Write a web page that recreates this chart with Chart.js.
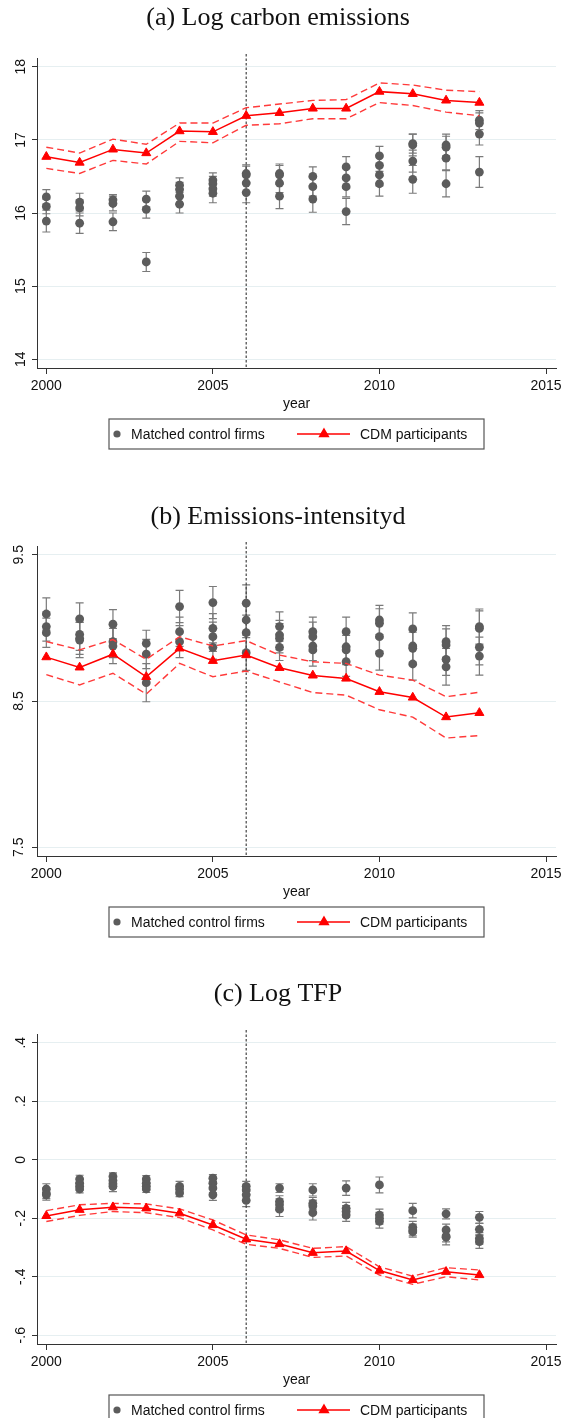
<!DOCTYPE html>
<html>
<head>
<meta charset="utf-8">
<title>CDM participants and matched control firms</title>
<script src="https://cdn.jsdelivr.net/npm/chart.js"></script>
<style>
    body { margin: 0; background: #fff; overflow: hidden; }
    .panel { width: 563px; height: 488px; }
    canvas { display: block; }
</style>
</head>
<body>
<div class="panel"><canvas id="chartA" width="563" height="488"></canvas></div>
<div class="panel"><canvas id="chartB" width="563" height="488"></canvas></div>
<div class="panel"><canvas id="chartC" width="563" height="488"></canvas></div>
<script>
// Shared x axis
const years = [2000, 2001, 2002, 2003, 2004, 2005, 2006, 2007, 2008, 2009, 2010, 2011, 2012, 2013];
const xTicks = [2000, 2005, 2010, 2015];
const policyYear = 2006;

// (a) Log carbon emissions
const cdmA   = [16.77, 16.69, 16.87, 16.82, 17.12, 17.11, 17.33, 17.37, 17.43, 17.43, 17.66, 17.63, 17.54, 17.51];
const cdmHiA = [16.90, 16.82, 17.01, 16.94, 17.23, 17.23, 17.44, 17.49, 17.54, 17.55, 17.78, 17.75, 17.68, 17.66];
const cdmLoA = [16.61, 16.54, 16.72, 16.67, 16.98, 16.96, 17.20, 17.22, 17.29, 17.29, 17.51, 17.47, 17.38, 17.33];
const controlA = [
    [16.22, 16.09, 15.89],
    [16.15, 16.07, 15.86],
    [16.18, 16.13, 15.88],
    [16.19, 16.05, 15.33],
    [16.38, 16.32, 16.23, 16.12],
    [16.45, 16.40, 16.33, 16.27],
    [16.54, 16.52, 16.41, 16.28],
    [16.54, 16.52, 16.41, 16.23],
    [16.50, 16.36, 16.19],
    [16.63, 16.48, 16.36, 16.02],
    [16.78, 16.65, 16.52, 16.40],
    [16.95, 16.93, 16.71, 16.46],
    [16.93, 16.90, 16.75, 16.40],
    [17.27, 17.23, 17.08, 16.56]
];
const controlErrA = [
    [0.10, 0.10, 0.15],
    [0.12, 0.11, 0.14],
    [0.07, 0.10, 0.12],
    [0.11, 0.12, 0.13],
    [0.10, 0.10, 0.10, 0.12],
    [0.10, 0.10, 0.10, 0.13],
    [0.12, 0.12, 0.12, 0.14],
    [0.13, 0.13, 0.13, 0.17],
    [0.13, 0.13, 0.18],
    [0.14, 0.14, 0.14, 0.18],
    [0.13, 0.14, 0.15, 0.17],
    [0.13, 0.15, 0.15, 0.19],
    [0.15, 0.15, 0.16, 0.18],
    [0.13, 0.14, 0.15, 0.21]
];
const yTicksA = [14, 15, 16, 17, 18];
const yLabelsA = ['14', '15', '16', '17', '18'];

// (b) Emissions-intensity
const cdmB   = [8.80, 8.73, 8.82, 8.665, 8.86, 8.775, 8.814, 8.727, 8.675, 8.654, 8.563, 8.524, 8.39, 8.419];
const cdmHiB = [8.906, 8.85, 8.92, 8.785, 8.94, 8.876, 8.913, 8.814, 8.768, 8.757, 8.677, 8.643, 8.529, 8.56];
const cdmLoB = [8.68, 8.61, 8.69, 8.547, 8.757, 8.666, 8.705, 8.63, 8.558, 8.54, 8.44, 8.39, 8.247, 8.263];
const controlB = [
    [9.095, 9.009, 8.967],
    [9.061, 8.956, 8.929, 8.917],
    [9.025, 8.906, 8.876],
    [8.894, 8.821, 8.625],
    [9.146, 8.974, 8.906],
    [9.173, 8.997, 8.94, 8.867],
    [9.169, 9.054, 8.967, 8.83],
    [9.009, 8.951, 8.929, 8.867],
    [8.974, 8.94, 8.876, 8.849],
    [8.974, 8.871, 8.849, 8.769],
    [9.054, 9.031, 8.94, 8.826],
    [8.993, 8.876, 8.86, 8.753],
    [8.906, 8.883, 8.785, 8.734],
    [9.009, 8.997, 8.867, 8.807]
];
const controlErrB = [
    [0.11, 0.10, 0.10],
    [0.11, 0.11, 0.11, 0.12],
    [0.10, 0.11, 0.12],
    [0.09, 0.10, 0.13],
    [0.11, 0.10, 0.11],
    [0.11, 0.10, 0.10, 0.08],
    [0.125, 0.12, 0.12, 0.12],
    [0.10, 0.10, 0.10, 0.09],
    [0.10, 0.10, 0.10, 0.11],
    [0.10, 0.10, 0.10, 0.10],
    [0.10, 0.10, 0.10, 0.115],
    [0.11, 0.11, 0.11, 0.11],
    [0.11, 0.11, 0.11, 0.125],
    [0.12, 0.12, 0.12, 0.13]
];
const yTicksB = [7.5, 8.5, 9.5];
const yLabelsB = ['7.5', '8.5', '9.5'];

// (c) Log TFP
const cdmC   = [-0.192, -0.171, -0.162, -0.166, -0.183, -0.223, -0.272, -0.288, -0.318, -0.312, -0.379, -0.411, -0.383, -0.394];
const cdmHiC = [-0.174, -0.154, -0.149, -0.151, -0.168, -0.206, -0.257, -0.274, -0.303, -0.297, -0.366, -0.398, -0.369, -0.377];
const cdmLoC = [-0.211, -0.190, -0.177, -0.181, -0.198, -0.240, -0.289, -0.303, -0.334, -0.329, -0.394, -0.426, -0.400, -0.411];
const controlC = [
    [-0.10, -0.114, -0.12],
    [-0.066, -0.08, -0.091, -0.10],
    [-0.057, -0.071, -0.082, -0.091],
    [-0.066, -0.08, -0.091, -0.10],
    [-0.091, -0.10, -0.114],
    [-0.063, -0.08, -0.097, -0.12],
    [-0.091, -0.103, -0.12, -0.139],
    [-0.097, -0.143, -0.154, -0.169],
    [-0.103, -0.149, -0.158, -0.181],
    [-0.097, -0.166, -0.177, -0.189],
    [-0.086, -0.189, -0.20, -0.211],
    [-0.174, -0.231, -0.24, -0.246],
    [-0.185, -0.24, -0.261, -0.265],
    [-0.197, -0.238, -0.269, -0.28]
];
const controlErrC = [
    [0.018, 0.018, 0.018],
    [0.013, 0.013, 0.013, 0.013],
    [0.012, 0.015, 0.015, 0.018],
    [0.012, 0.012, 0.012, 0.012],
    [0.017, 0.013, 0.012],
    [0.012, 0.013, 0.015, 0.019],
    [0.017, 0.017, 0.018, 0.021],
    [0.015, 0.02, 0.02, 0.025],
    [0.021, 0.02, 0.02, 0.025],
    [0.025, 0.02, 0.02, 0.022],
    [0.027, 0.02, 0.02, 0.023],
    [0.025, 0.02, 0.02, 0.019],
    [0.017, 0.02, 0.02, 0.026],
    [0.02, 0.02, 0.02, 0.023]
];
const yTicksC = [-0.6, -0.4, -0.2, 0, 0.2, 0.4];
const yLabelsC = ['-.6', '-.4', '-.2', '0', '.2', '.4'];

const legendLabels = ['Matched control firms', 'CDM participants'];

// Colours
const CONTROL_GREY = '#5c5c5c';
const ERROR_GREY = '#7a7a7a';
const CDM_RED = '#ff0000';
const CI_RED = '#ff3a3a';
const GRID = '#e6eff1';
const AXIS = '#333333';

Chart.defaults.font.family = "'Liberation Sans', Arial, sans-serif";
Chart.defaults.font.size = 14;
Chart.defaults.color = '#111';

function linePoints(values) {
    return values.map((v, i) => ({ x: years[i], y: v }));
}

function controlPoints(groups) {
    const pts = [];
    groups.forEach((vals, i) => vals.forEach(v => pts.push({ x: years[i], y: v })));
    return pts;
}

// Error bars for the control firms, drawn under the markers
const errorBarPlugin = {
    id: 'errorBars',
    beforeDatasetsDraw(chart) {
        const ctx = chart.ctx;
        const xs = chart.scales.x;
        const ys = chart.scales.y;
        chart.data.datasets.forEach(ds => {
            if (!ds.errors) return;
            ctx.save();
            ctx.strokeStyle = ERROR_GREY;
            ctx.lineWidth = 1.2;
            ds.data.forEach((p, j) => {
                const px = xs.getPixelForValue(p.x);
                const top = ys.getPixelForValue(p.y + ds.errors[j]);
                const bot = ys.getPixelForValue(p.y - ds.errors[j]);
                ctx.beginPath();
                ctx.moveTo(px, top);
                ctx.lineTo(px, bot);
                ctx.moveTo(px - 4, top);
                ctx.lineTo(px + 4, top);
                ctx.moveTo(px - 4, bot);
                ctx.lineTo(px + 4, bot);
                ctx.stroke();
            });
            ctx.restore();
        });
    }
};

// Dotted vertical line at the policy year
const policyLinePlugin = {
    id: 'policyLine',
    beforeDatasetsDraw(chart) {
        const ctx = chart.ctx;
        const area = chart.chartArea;
        const px = chart.scales.x.getPixelForValue(policyYear);
        ctx.save();
        ctx.strokeStyle = '#444';
        ctx.lineWidth = 1.2;
        ctx.setLineDash([2.5, 2]);
        ctx.beginPath();
        ctx.moveTo(px, area.top - 4);
        ctx.lineTo(px, area.bottom);
        ctx.stroke();
        ctx.restore();
    }
};

// Boxed Stata-style legend under the x axis title
const boxLegendPlugin = {
    id: 'boxLegend',
    afterDraw(chart) {
        const ctx = chart.ctx;
        const cy = 435;
        ctx.save();
        ctx.strokeStyle = '#555';
        ctx.lineWidth = 1.2;
        ctx.strokeRect(109, 419, 375, 30);

        ctx.fillStyle = CONTROL_GREY;
        ctx.beginPath();
        ctx.arc(117, cy - 1, 3.6, 0, Math.PI * 2);
        ctx.fill();

        ctx.strokeStyle = CDM_RED;
        ctx.lineWidth = 1.5;
        ctx.beginPath();
        ctx.moveTo(297, cy - 1);
        ctx.lineTo(350, cy - 1);
        ctx.stroke();
        Chart.helpers.drawPoint(ctx, {
            pointStyle: 'triangle', radius: 5, rotation: 0, borderWidth: 1
        }, 324, cy - 1);
        ctx.fillStyle = CDM_RED;
        ctx.fill();

        ctx.fillStyle = '#111';
        ctx.font = "14px 'Liberation Sans', Arial, sans-serif";
        ctx.textBaseline = 'middle';
        ctx.textAlign = 'left';
        ctx.fillText(legendLabels[0], 131, cy);
        ctx.fillText(legendLabels[1], 360, cy);
        ctx.restore();
    }
};

function buildChart(canvasId, title, titleTop, cdm, cdmHi, cdmLo, control, controlErr, yTicks, yLabels) {
    const span = yTicks[yTicks.length - 1] - yTicks[0];
    const ctx = document.getElementById(canvasId).getContext('2d');
    return new Chart(ctx, {
        type: 'line',
        data: {
            datasets: [
                {
                    label: legendLabels[1],
                    data: linePoints(cdm),
                    borderColor: CDM_RED,
                    backgroundColor: CDM_RED,
                    borderWidth: 1.5,
                    pointStyle: 'triangle',
                    pointRadius: 5.2,
                    pointBorderWidth: 1,
                    tension: 0
                },
                {
                    label: 'upper',
                    data: linePoints(cdmHi),
                    borderColor: CI_RED,
                    borderWidth: 1.4,
                    borderDash: [7, 4],
                    pointRadius: 0,
                    tension: 0
                },
                {
                    label: 'lower',
                    data: linePoints(cdmLo),
                    borderColor: CI_RED,
                    borderWidth: 1.4,
                    borderDash: [7, 4],
                    pointRadius: 0,
                    tension: 0
                },
                {
                    type: 'scatter',
                    label: legendLabels[0],
                    data: controlPoints(control),
                    errors: controlErr.flat(),
                    backgroundColor: CONTROL_GREY,
                    borderWidth: 0,
                    pointRadius: 4.4
                }
            ]
        },
        options: {
            responsive: false,
            animation: false,
            events: [],
            layout: { padding: { left: 0, right: 7, top: 0, bottom: 75.6 } },
            plugins: {
                legend: { display: false },
                tooltip: { enabled: false },
                title: {
                    display: true,
                    text: title,
                    color: '#111',
                    font: { family: "'Liberation Serif', 'Times New Roman', serif", size: 26, weight: 'normal' },
                    padding: { top: titleTop, bottom: 58 - 31.2 - titleTop }
                }
            },
            scales: {
                x: {
                    type: 'linear',
                    min: 1999.72,
                    max: 2015.3,
                    afterBuildTicks: scale => { scale.ticks = xTicks.map(v => ({ value: v })); },
                    afterFit: scale => {
                        scale.height = 44.4;
                        scale.paddingLeft = 0;
                        scale.paddingRight = 0;
                    },
                    ticks: { padding: 4, maxRotation: 0, callback: v => String(v) },
                    grid: { drawOnChartArea: false, tickLength: 6, tickColor: AXIS, tickWidth: 1 },
                    border: { display: true, color: AXIS, width: 1 },
                    title: { display: true, text: 'year', padding: { top: 0, bottom: 0 } }
                },
                y: {
                    type: 'linear',
                    min: yTicks[0] - 0.03 * span,
                    max: yTicks[yTicks.length - 1] + 0.03 * span,
                    afterBuildTicks: scale => { scale.ticks = yTicks.map(v => ({ value: v })); },
                    afterFit: scale => {
                        scale.width = 37;
                        scale.paddingTop = 0;
                        scale.paddingBottom = 0;
                    },
                    ticks: {
                        minRotation: 90,
                        maxRotation: 90,
                        crossAlign: 'center',
                        padding: 3,
                        callback: (v, i) => yLabels[i]
                    },
                    grid: { color: GRID, lineWidth: 1, tickLength: 5, tickColor: AXIS },
                    border: { display: true, color: AXIS, width: 1 }
                }
            }
        },
        plugins: [errorBarPlugin, policyLinePlugin, boxLegendPlugin]
    });
}

buildChart('chartA', '(a) Log carbon emissions', 2.4, cdmA, cdmHiA, cdmLoA, controlA, controlErrA, yTicksA, yLabelsA);
buildChart('chartB', '(b) Emissions-intensityd', 13.4, cdmB, cdmHiB, cdmLoB, controlB, controlErrB, yTicksB, yLabelsB);
buildChart('chartC', '(c) Log TFP', 2.4, cdmC, cdmHiC, cdmLoC, controlC, controlErrC, yTicksC, yLabelsC);
</script>
</body>
</html>
